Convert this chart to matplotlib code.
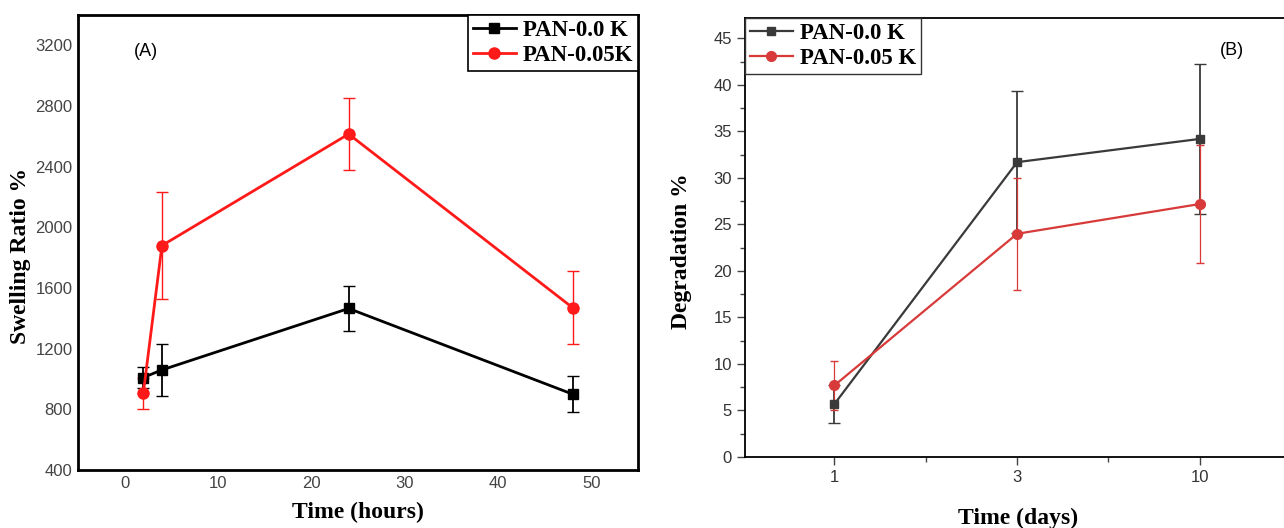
import numpy as np
import matplotlib.pyplot as plt
from matplotlib.lines import Line2D

# -----------------------------
# Dados do painel (A): razão de inchamento
# -----------------------------
tempo_h = [2, 4, 24, 48]
sw_00 = [1010, 1060, 1465, 900]
sw_00_err = [70, 170, 150, 120]
sw_05 = [905, 1880, 2615, 1470]
sw_05_err = [100, 350, 240, 240]

# -----------------------------
# Dados do painel (B): degradação
# -----------------------------
dias = ["1", "3", "10"]
deg_00 = [5.7, 31.7, 34.2]
deg_00_err = [2.0, 7.6, 8.1]
deg_05 = [7.7, 24.0, 27.2]
deg_05_err = [2.6, 6.0, 6.3]

serif = "Liberation Serif"
sans = "Liberation Sans"

fig = plt.figure(figsize=(12.84, 5.28), dpi=100)

# ---- painel A ----
ax1 = fig.add_axes([0.0607, 0.1098, 0.4362, 0.8618])
ax1.errorbar(tempo_h, sw_00, yerr=sw_00_err, color="black", marker="s", ms=7,
             lw=2, elinewidth=1.3, capsize=4, zorder=3)
ax1.errorbar(tempo_h, sw_05, yerr=sw_05_err, color="#ff1a1a", marker="o", ms=8,
             lw=2, elinewidth=1.0, capsize=4, zorder=3)
ax1.set_xlim(-5, 55)
ax1.set_ylim(400, 3400)
ax1.set_xticks(np.arange(0, 51, 10))
ax1.set_yticks(np.arange(400, 3201, 400))
ax1.tick_params(length=0, labelsize=12, labelcolor="#444444", pad=4)
for lab in ax1.get_xticklabels() + ax1.get_yticklabels():
    lab.set_family(sans)
for s in ax1.spines.values():
    s.set_linewidth(2)
ax1.set_xlabel("Time (hours)", family=serif, weight="bold", size=17, labelpad=8)
ax1.set_ylabel("Swelling Ratio %", family=serif, weight="bold", size=17)
ax1.yaxis.set_label_coords(-0.084, 0.47)
ax1.text(0.1, 0.91, "(A)", transform=ax1.transAxes, family=sans, size=13)
h1 = [Line2D([], [], color="black", marker="s", ms=7, lw=2),
      Line2D([], [], color="#ff1a1a", marker="o", ms=8, lw=2)]
leg1 = ax1.legend(h1, ["PAN-0.0 K", "PAN-0.05K"], loc="upper right",
                  bbox_to_anchor=(1.0, 1.0), borderaxespad=0,
                  prop={"family": serif, "weight": "bold", "size": 16.5},
                  fancybox=False, edgecolor="black", framealpha=1,
                  handlelength=1.9, handletextpad=0.3, borderpad=0.2,
                  labelspacing=0.2)
leg1.get_frame().set_linewidth(1.2)

# ---- painel B ----
ax2 = fig.add_axes([0.5802, 0.1345, 0.4253, 0.8314])
pos = np.arange(1, len(dias) + 1)
ax2.errorbar(pos, deg_00, yerr=deg_00_err, color="#3a3a3a", marker="s", ms=6,
             lw=1.6, elinewidth=1.3, capsize=4, zorder=3)
ax2.errorbar(pos, deg_05, yerr=deg_05_err, color="#d83a3a", marker="o", ms=7,
             lw=1.6, elinewidth=0.9, capsize=3, zorder=3)
ax2.set_xlim(0.51, 3.5)
ax2.set_ylim(0, 47.2)
ax2.set_xticks(pos)
ax2.set_xticklabels(dias)
ax2.set_xticks([1.5, 2.5], minor=True)
ax2.set_yticks(np.arange(0, 46, 5))
ax2.set_yticks(np.arange(2.5, 46, 5), minor=True)
ax2.tick_params(which="major", length=6, width=1, color="#444444",
                labelsize=12, labelcolor="#333333")
ax2.tick_params(which="minor", length=3.5, width=1, color="#444444")
for lab in ax2.get_xticklabels() + ax2.get_yticklabels():
    lab.set_family(sans)
for s in ax2.spines.values():
    s.set_linewidth(1.3)
ax2.spines["right"].set_visible(False)
ax2.set_xlabel("Time (days)", family=serif, weight="bold", size=17, labelpad=16)
ax2.set_ylabel("Degradation %", family=serif, weight="bold", size=17)
ax2.yaxis.set_label_coords(-0.097, 0.47)
ax2.text(0.87, 0.915, "(B)", transform=ax2.transAxes, family=sans, size=13)
h2 = [Line2D([], [], color="#3a3a3a", marker="s", ms=6, lw=1.6),
      Line2D([], [], color="#d83a3a", marker="o", ms=7, lw=1.6)]
leg2 = ax2.legend(h2, ["PAN-0.0 K", "PAN-0.05 K"], loc="upper left",
                  bbox_to_anchor=(0.0, 1.0), borderaxespad=0,
                  prop={"family": serif, "weight": "bold", "size": 16.5},
                  fancybox=False, edgecolor="#333333", framealpha=1,
                  handlelength=1.9, handletextpad=0.3, borderpad=0.2,
                  labelspacing=0.2)
leg2.get_frame().set_linewidth(1.0)

fig.savefig("out.png", dpi=100)
